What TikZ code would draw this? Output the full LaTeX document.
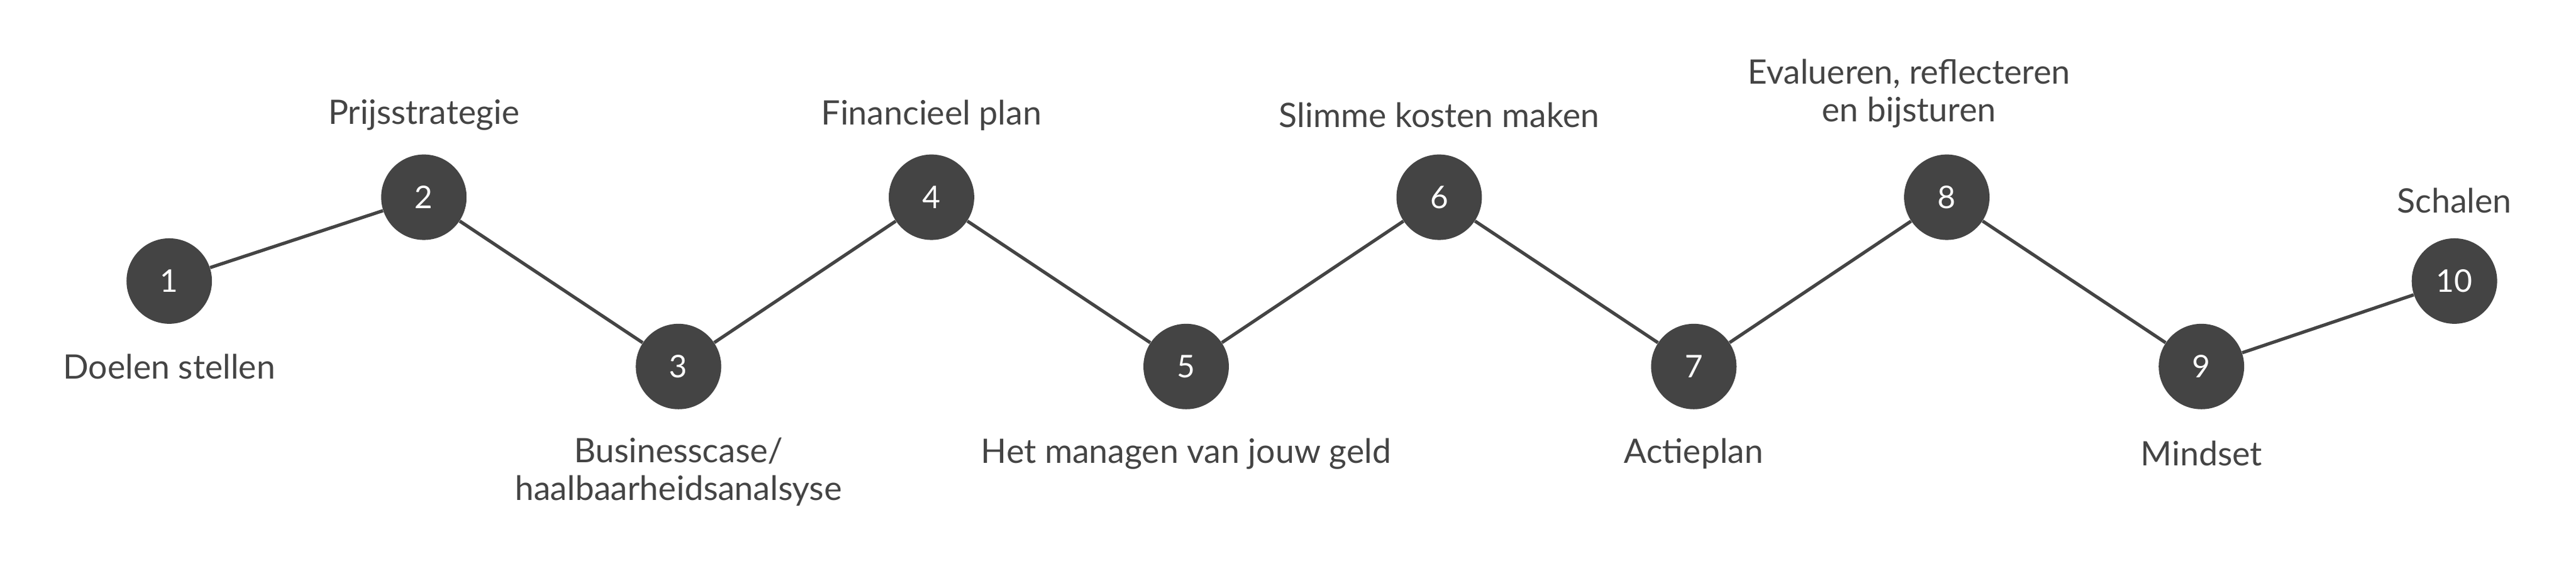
\documentclass[tikz,border=0pt]{standalone}
\usepackage{fontspec}
\setmainfont{Lato}
\begin{document}
\begin{tikzpicture}[x=1pt,y=-1pt,
  dot/.style={circle,fill=dg,minimum size=52pt,inner sep=0pt,text=white,font=\fontsize{19}{19}\selectfont},
  lab/.style={text=dg,font=\fontsize{20.5}{23}\selectfont,align=center},
  link/.style={draw=dg,line width=2pt}]
\definecolor{dg}{HTML}{444444}
\useasboundingbox (0,0) rectangle (1568,344);
\foreach \n/\x/\y in {1/103/171,2/258/120,3/413/223,4/567/120,5/722/223,6/876/120,7/1031/223,8/1185/120,9/1340/223,10/1494/171}
  \node[dot] (n\n) at (\x,\y) {\n};
\foreach \a/\b in {1/2,2/3,3/4,4/5,5/6,6/7,7/8,8/9,9/10}
  \draw[link] (n\a) -- (n\b);
\node[lab] (l1) at (103,223) {Doelen stellen};
\node[lab] (l2) at (258,70) {Prijsstrategie};
\node[lab] (l3) at (413,287) {Businesscase/\\haalbaarheidsanalsyse};
\node[lab] (l4) at (567,70) {Financieel plan};
\node[lab] (l5) at (722,276) {Het managen van jouw geld};
\node[lab] (l6) at (876,70) {Slimme kosten maken};
\node[lab] (l7) at (1031,276) {Actieplan};
\node[lab] (l8) at (1162,57) {Evalueren, reflecteren\\en bijsturen};
\node[lab] (l9) at (1340,276) {Mindset};
\node[lab] (l10) at (1494,122) {Schalen};
\end{tikzpicture}
\end{document}
